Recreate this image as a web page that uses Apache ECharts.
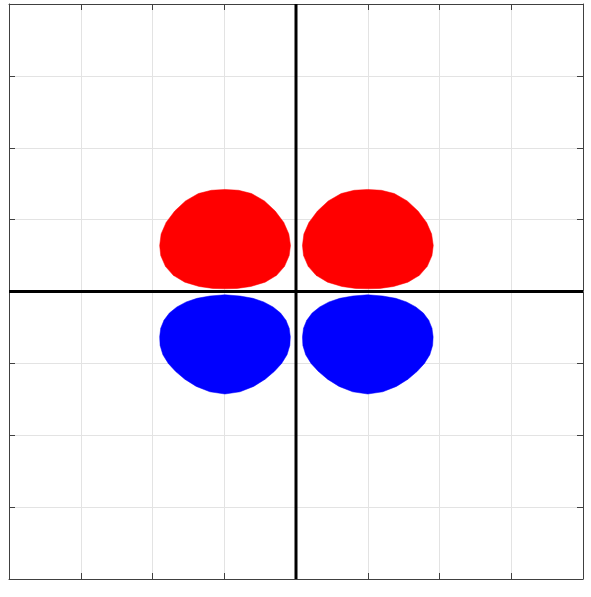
<!DOCTYPE html>
<html>
<head>
<meta charset="utf-8">
<script src="https://cdn.jsdelivr.net/npm/echarts@6/dist/echarts.min.js"></script>
<style>html,body{margin:0;padding:0;background:#fff;}#c{width:591px;height:597px;}</style>
</head>
<body>
<div id="c"></div>
<script>
// Axis range and ticks (no labels shown)
const axisMin = -4;
const axisMax = 4;
const axisStep = 1;

// Lobe outlines, [x, y] in axis units
const lobeUpperLeft = [
  [-0.99,1.42],[-0.80,1.408],[-0.62,1.363],[-0.44,1.26],[-0.29,1.12],[-0.17,0.96],[-0.10,0.80],
  [-0.077,0.64],[-0.095,0.50],[-0.16,0.35],[-0.27,0.225],[-0.43,0.13],[-0.63,0.07],[-0.82,0.043],
  [-0.99,0.038],[-1.16,0.043],[-1.35,0.07],[-1.55,0.13],[-1.71,0.225],[-1.82,0.35],[-1.885,0.50],
  [-1.90,0.64],[-1.88,0.80],[-1.81,0.96],[-1.69,1.12],[-1.54,1.26],[-1.36,1.363],[-1.18,1.408]
];
const lobeUpperRight = [
  [1.0,1.42],[1.19,1.408],[1.37,1.363],[1.55,1.26],[1.70,1.12],[1.82,0.96],[1.89,0.80],
  [1.913,0.64],[1.895,0.50],[1.83,0.35],[1.72,0.225],[1.56,0.13],[1.36,0.07],[1.17,0.043],
  [1.0,0.038],[0.83,0.043],[0.64,0.07],[0.44,0.13],[0.28,0.225],[0.17,0.35],[0.105,0.50],
  [0.09,0.64],[0.11,0.80],[0.18,0.96],[0.30,1.12],[0.45,1.26],[0.63,1.363],[0.81,1.408]
];
const lobeLowerLeft = [
  [-0.99,-0.046],[-0.78,-0.063],[-0.60,-0.095],[-0.45,-0.145],[-0.32,-0.215],[-0.215,-0.30],[-0.14,-0.40],
  [-0.095,-0.51],[-0.079,-0.63],[-0.086,-0.75],[-0.125,-0.88],[-0.20,-1.0],[-0.30,-1.11],[-0.43,-1.22],
  [-0.59,-1.32],[-0.78,-1.395],[-0.99,-1.426],[-1.20,-1.395],[-1.39,-1.32],[-1.55,-1.22],[-1.68,-1.11],
  [-1.78,-1.0],[-1.855,-0.88],[-1.894,-0.75],[-1.90,-0.63],[-1.885,-0.51],[-1.84,-0.40],[-1.765,-0.30],
  [-1.66,-0.215],[-1.53,-0.145],[-1.38,-0.095],[-1.20,-0.063]
];
const lobeLowerRight = [
  [1.0,-0.046],[1.21,-0.063],[1.39,-0.095],[1.54,-0.145],[1.67,-0.215],[1.775,-0.30],[1.85,-0.40],
  [1.895,-0.51],[1.911,-0.63],[1.904,-0.75],[1.865,-0.88],[1.79,-1.0],[1.69,-1.11],[1.56,-1.22],
  [1.40,-1.32],[1.21,-1.395],[1.0,-1.426],[0.79,-1.395],[0.60,-1.32],[0.44,-1.22],[0.31,-1.11],
  [0.21,-1.0],[0.135,-0.88],[0.096,-0.75],[0.09,-0.63],[0.105,-0.51],[0.15,-0.40],[0.225,-0.30],
  [0.33,-0.215],[0.46,-0.145],[0.61,-0.095],[0.79,-0.063]
];
const lobes = [lobeUpperLeft, lobeUpperRight, lobeLowerLeft, lobeLowerRight];
const lobeCenters = [[-0.99,0.73],[1.0,0.73],[-0.99,-0.74],[1.0,-0.74]];
const lobeColors = ['#ff0000','#ff0000','#0000ff','#0000ff'];

const chart = echarts.init(document.getElementById('c'), null, {renderer:'canvas'});

function makeAxis(pos, showGrid) {
  return {
    type: 'value', position: pos, min: axisMin, max: axisMax, interval: axisStep,
    axisLine: {show: true, onZero: false, lineStyle: {color: '#404040', width: 1}},
    axisTick: {show: true, inside: true, length: 6, lineStyle: {color: '#404040', width: 1}},
    axisLabel: {show: false},
    splitLine: {show: showGrid, lineStyle: {color: '#e3e3e3', width: 1}}
  };
}

chart.setOption({
  animation: false,
  backgroundColor: '#ffffff',
  grid: {left: 9, top: 4, right: 8, bottom: 18, containLabel: false},
  xAxis: [makeAxis('bottom', true), makeAxis('top', false)],
  yAxis: [makeAxis('left', true), makeAxis('right', false)],
  series: [
    {
      type: 'line', xAxisIndex: 0, yAxisIndex: 0, symbol: 'none', silent: true,
      data: [[0, axisMin], [0, axisMax]],
      lineStyle: {color: '#000', width: 3}, z: 3
    },
    {
      type: 'line', xAxisIndex: 0, yAxisIndex: 0, symbol: 'none', silent: true,
      data: [[axisMin, 0], [axisMax, 0]],
      lineStyle: {color: '#000', width: 3}, z: 3
    },
    {
      type: 'custom', xAxisIndex: 0, yAxisIndex: 0, silent: true, z: 4,
      data: lobeCenters,
      renderItem: function (params, api) {
        const pts = lobes[params.dataIndex].map(p => api.coord(p));
        return {
          type: 'polygon',
          shape: {points: pts},
          style: {fill: lobeColors[params.dataIndex], stroke: lobeColors[params.dataIndex], lineWidth: 0.5}
        };
      }
    }
  ]
});
</script>
</body>
</html>
